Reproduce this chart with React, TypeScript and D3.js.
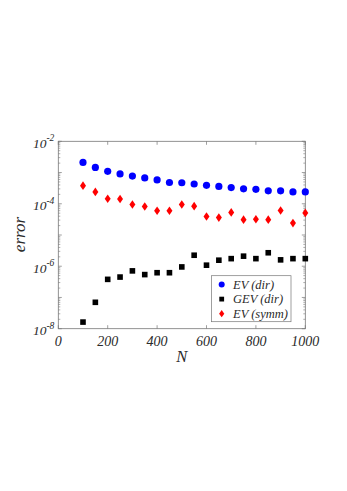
import React from "react";
import * as d3 from "d3";

const nValues = [100, 150, 200, 250, 300, 350, 400, 450, 500, 550, 600, 650, 700, 750, 800, 850, 900, 950, 1000];
const evDir = [2.1e-3, 1.46e-3, 1.09e-3, 9.0e-4, 7.7e-4, 6.7e-4, 5.8e-4, 4.8e-4, 4.7e-4, 4.3e-4, 3.9e-4, 3.6e-4, 3.3e-4, 3.0e-4, 2.9e-4, 2.6e-4, 2.6e-4, 2.4e-4, 2.4e-4];
const gevDir = [1.63e-8, 7.0e-8, 3.8e-7, 4.5e-7, 7.1e-7, 5.4e-7, 6.2e-7, 6.2e-7, 9.5e-7, 2.25e-6, 1.08e-6, 1.56e-6, 1.75e-6, 2.1e-6, 1.75e-6, 2.7e-6, 1.6e-6, 1.75e-6, 1.75e-6];
const evSymm = [3.8e-4, 2.4e-4, 1.45e-4, 1.42e-4, 9.5e-5, 8.2e-5, 6.0e-5, 6.0e-5, 9.5e-5, 8.4e-5, 3.9e-5, 3.6e-5, 5.3e-5, 3.1e-5, 3.2e-5, 3.1e-5, 6.1e-5, 2.4e-5, 5.1e-5];
const xTicks = [0, 200, 400, 600, 800, 1000];
const yTickExps = [-2, -4, -6, -8];
const legendLabels = ["EV (dir)", "GEV (dir)", "EV (symm)"];

const L = 58.3, R = 305.3, T = 141.3, B = 328.7;
const font = "'Liberation Serif', 'DejaVu Serif', serif";
const axisColor = "#777";
const textColor = "#2a2a2a";

export default function App() {
  const x = d3.scaleLinear().domain([0, 1000]).range([L, R]);
  const y = d3.scaleLog().domain([1e-8, 1e-2]).range([B, T]);

  const minor: number[] = [];
  for (let e = -8; e < -2; e++) {
    for (let k = 2; k <= 9; k++) minor.push(k * Math.pow(10, e));
  }
  const majors: number[] = [];
  for (let e = -8; e <= -2; e++) majors.push(Math.pow(10, e));

  const diamond = (cx: number, cy: number) =>
    `M${cx},${cy - 4.3}L${cx + 3},${cy}L${cx},${cy + 4.3}L${cx - 3},${cy}Z`;

  return (
    <svg width={347} height={491} style={{ position: "absolute", left: 0, top: 0 }}>
      <rect x={0} y={0} width={347} height={491} fill="#fff" />
      {minor.map((v, i) => (
        <g key={"mn" + i} stroke={axisColor} strokeWidth={0.6}>
          <line x1={L} x2={L + 2} y1={y(v)} y2={y(v)} />
          <line x1={R} x2={R - 2} y1={y(v)} y2={y(v)} />
        </g>
      ))}
      {majors.map((v, i) => (
        <g key={"mj" + i} stroke={axisColor} strokeWidth={0.7}>
          <line x1={L} x2={L + 3.5} y1={y(v)} y2={y(v)} />
          <line x1={R} x2={R - 3.5} y1={y(v)} y2={y(v)} />
        </g>
      ))}
      {xTicks.map((t) => (
        <g key={"xt" + t} stroke={axisColor} strokeWidth={0.7}>
          <line x1={x(t)} x2={x(t)} y1={B} y2={B - 3.5} />
          <line x1={x(t)} x2={x(t)} y1={T} y2={T + 3.5} />
        </g>
      ))}
      <rect x={L} y={T} width={R - L} height={B - T} fill="none" stroke={axisColor} strokeWidth={0.8} />

      {xTicks.map((t) => (
        <text key={"xl" + t} x={x(t)} y={B + 17} textAnchor="middle" fontFamily={font} fontStyle="italic" fontSize={14} fill={textColor}>
          {t}
        </text>
      ))}
      {yTickExps.map((e) => (
        <text key={"yl" + e} x={L - 4} y={y(Math.pow(10, e)) + 6.5} textAnchor="end" fontFamily={font} fontStyle="italic" fontSize={13.5} fill={textColor}>
          10<tspan dy={-6.5} fontSize={9.5}>{e}</tspan>
        </text>
      ))}
      <text x={(L + R) / 2} y={361.7} textAnchor="middle" fontFamily={font} fontStyle="italic" fontSize={16.5} fill={textColor}>N</text>
      <text transform={`translate(24.5,234.5) rotate(-90)`} textAnchor="middle" fontFamily={font} fontStyle="italic" fontSize={17} fill={textColor}>error</text>

      {nValues.map((n, i) => (
        <circle key={"b" + i} cx={x(n)} cy={y(evDir[i])} r={3.6} fill="#0000ff" />
      ))}
      {nValues.map((n, i) => (
        <rect key={"k" + i} x={x(n) - 2.8} y={y(gevDir[i]) - 2.8} width={5.6} height={5.6} fill="#000" />
      ))}
      {nValues.map((n, i) => (
        <path key={"r" + i} d={diamond(x(n), y(evSymm[i]))} fill="#ff0000" />
      ))}

      <rect x={211.5} y={275.7} width={79.5} height={46} fill="#fff" stroke={axisColor} strokeWidth={0.7} />
      {legendLabels.map((lab, i) => {
        const ly = 284.5 + i * 14.6;
        const lx = 221.7;
        return (
          <g key={"lg" + i}>
            {i === 0 && <circle cx={lx} cy={ly} r={3} fill="#0000ff" />}
            {i === 1 && <rect x={lx - 2.4} y={ly - 2.4} width={4.8} height={4.8} fill="#000" />}
            {i === 2 && <path d={`M${lx},${ly - 3.6}L${lx + 2.6},${ly}L${lx},${ly + 3.6}L${lx - 2.6},${ly}Z`} fill="#ff0000" />}
            <text x={233} y={ly + 4.2} fontFamily={font} fontStyle="italic" fontSize={12.5} fill={textColor}>{lab}</text>
          </g>
        );
      })}
    </svg>
  );
}
